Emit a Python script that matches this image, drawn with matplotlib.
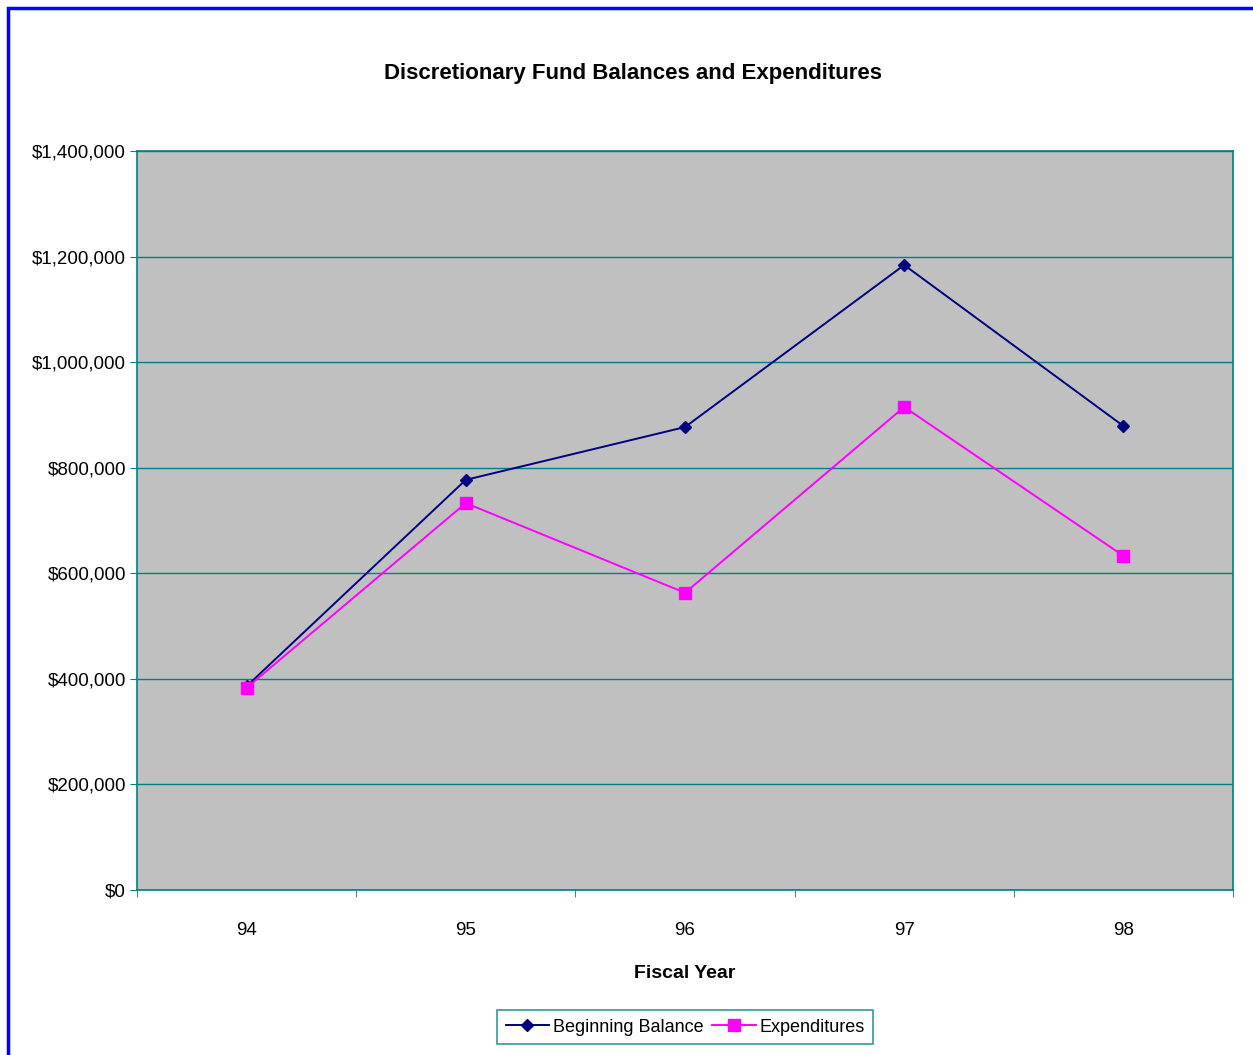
import matplotlib
matplotlib.use("Agg")
import matplotlib.pyplot as plt
from matplotlib.patches import Rectangle

years = ["94", "95", "96", "97", "98"]
beginning_balance = [386000, 777000, 877000, 1184000, 879000]
expenditures = [383000, 733000, 563000, 915000, 633000]
y_ticks = [0, 200000, 400000, 600000, 800000, 1000000, 1200000, 1400000]
y_tick_labels = ["$0", "$200,000", "$400,000", "$600,000", "$800,000",
                 "$1,000,000", "$1,200,000", "$1,400,000"]

plt.rcParams["font.family"] = ["Liberation Sans", "DejaVu Sans"]

W, H = 1253, 1055
fig = plt.figure(figsize=(W / 100, H / 100), dpi=100)
fig.patch.set_facecolor("white")

# blue frame on the left and top edges
fig.add_artist(Rectangle((8 / W, -0.1), 1.2, (H - 8) / H + 0.1,
                         transform=fig.transFigure, fill=False,
                         edgecolor="#0000FF", linewidth=2.5))

left, right, top, bottom = 137, 1233, 151, 890
ax = fig.add_axes([left / W, 1 - bottom / H, (right - left) / W, (bottom - top) / H])
ax.set_facecolor("#C0C0C0")

teal = "#008080"
x = list(range(len(years)))
ax.plot(x, beginning_balance, color="#000080", marker="D", markersize=6.5,
        linewidth=1.4, label="Beginning Balance", zorder=3)
ax.plot(x, expenditures, color="#FF00FF", marker="s", markersize=8,
        linewidth=1.4, label="Expenditures", zorder=3)

ax.set_xlim(-0.5, len(years) - 0.5)
ax.set_ylim(0, 1400000)
ax.set_yticks(y_ticks)
ax.set_yticklabels(y_tick_labels, fontsize=13.5, va="center_baseline")
ax.set_xticks(x)
ax.set_xticklabels(years, fontsize=13.5)
ax.set_xticks([i - 0.5 for i in range(len(years) + 1)], minor=True)
ax.tick_params(axis="x", which="major", length=0, pad=23)
ax.tick_params(axis="x", which="minor", length=5, color=teal, direction="out")
ax.tick_params(axis="y", length=5, color=teal, direction="out", pad=3)
ax.grid(axis="y", color=teal, linewidth=1)
ax.set_axisbelow(True)
for s in ax.spines.values():
    s.set_color(teal)
    s.set_linewidth(1.2)

ax.set_xlabel("Fiscal Year", fontsize=14, fontweight="bold", labelpad=19)
fig.text(633 / W, 1 - 73 / H, "Discretionary Fund Balances and Expenditures",
         ha="center", va="center", fontsize=16, fontweight="bold")

leg = ax.legend(loc="center", bbox_to_anchor=((685 - left) / (right - left), -(1027 - bottom) / (bottom - top)),
                ncol=2, frameon=True, fancybox=False, fontsize=13,
                handlelength=2.4, handletextpad=0.2, columnspacing=0.5,
                borderpad=0.45, borderaxespad=0)
leg.get_frame().set_edgecolor(teal)
leg.get_frame().set_linewidth(1.2)

fig.savefig("out.png", dpi=100, facecolor="white")
